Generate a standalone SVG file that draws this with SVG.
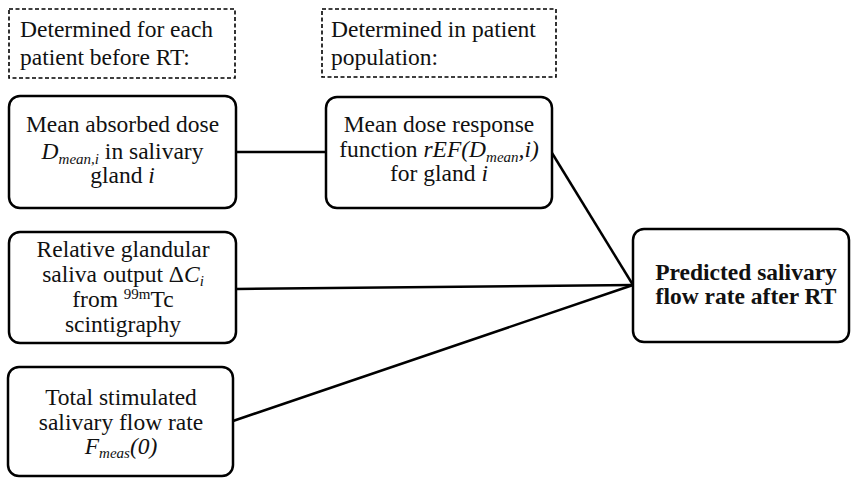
<svg xmlns="http://www.w3.org/2000/svg" width="852" height="478" viewBox="0 0 852 478">
<style>
.bg{fill:#ffffff}
.box{fill:#ffffff;stroke:#000;stroke-width:2.5}
.dash{fill:#ffffff;stroke:#000;stroke-width:1.6;stroke-dasharray:4,2.5}
text{font-family:'Liberation Serif','Times New Roman',Times,serif;font-size:23.5px;fill:#111}
.c{text-anchor:middle}
.b{font-weight:bold}
.i{font-style:italic}
.s{font-size:15px}
.con{stroke:#000;stroke-width:2.5;fill:none}
</style>
<rect class="bg" x="0" y="0" width="852" height="478"/>
<g id="connectors">
<line class="con" x1="236" y1="152" x2="326" y2="152"/>
<line class="con" x1="552" y1="153" x2="633" y2="285"/>
<line class="con" x1="236" y1="289" x2="633" y2="285"/>
<line class="con" x1="233" y1="421" x2="633" y2="285"/>
</g>
<g id="label-patient">
<rect class="dash" x="9" y="9" width="226" height="69"/>
<text x="20" y="37">Determined for each</text>
<text x="20" y="65">patient before RT:</text>
</g>
<g id="label-population">
<rect class="dash" x="322" y="9" width="234" height="68"/>
<text x="331" y="37">Determined in patient</text>
<text x="331" y="65">population:</text>
</g>
<g id="node-dose">
<rect class="box" x="9" y="96" width="227" height="112" rx="11"/>
<text class="c" x="122.5" y="132">Mean absorbed dose</text>
<text class="c" x="122.5" y="159"><tspan class="i">D</tspan><tspan class="i s" dy="5">mean,i</tspan><tspan dy="-5"> in salivary</tspan></text>
<text class="c" x="122.5" y="183">gland <tspan class="i">i</tspan></text>
</g>
<g id="node-response">
<rect class="box" x="326" y="97" width="226" height="111" rx="11"/>
<text class="c" x="439" y="132">Mean dose response</text>
<text class="c" x="439" y="157">function <tspan class="i">rEF(D</tspan><tspan class="i s" dy="5">mean</tspan><tspan class="i" dy="-5">,i)</tspan></text>
<text class="c" x="439" y="181">for gland <tspan class="i">i</tspan></text>
</g>
<g id="node-output">
<rect class="box" x="9" y="232" width="227" height="111" rx="11"/>
<text class="c" x="123" y="257">Relative glandular</text>
<text class="c" x="123" y="282">saliva output Δ<tspan class="i">C</tspan><tspan class="i s" dy="4">i</tspan></text>
<text class="c" x="123" y="307">from <tspan class="s" dy="-8">99m</tspan><tspan dy="8">Tc</tspan></text>
<text class="c" x="123" y="332">scintigraphy</text>
</g>
<g id="node-flow">
<rect class="box" x="8" y="367" width="225" height="109" rx="11"/>
<text class="c" x="121" y="405">Total stimulated</text>
<text class="c" x="121" y="430">salivary flow rate</text>
<text class="c" x="121" y="454"><tspan class="i">F</tspan><tspan class="i s" dy="4">meas</tspan><tspan class="i" dy="-4">(0)</tspan></text>
</g>
<g id="node-predicted">
<rect class="box" x="633" y="229" width="216" height="113" rx="11"/>
<text class="c b" x="746" y="280">Predicted salivary</text>
<text class="c b" x="746" y="304">flow rate after RT</text>
</g>
</svg>
